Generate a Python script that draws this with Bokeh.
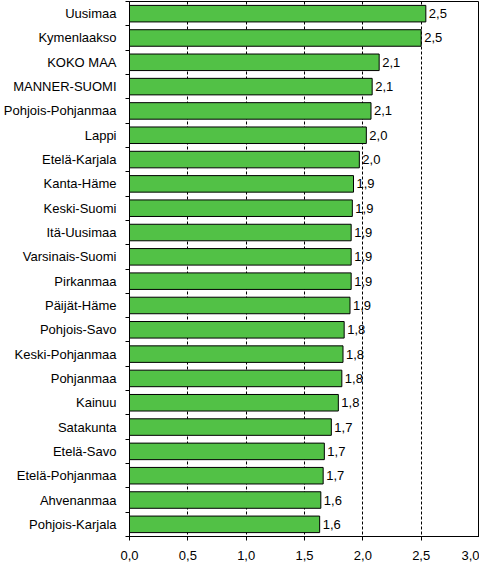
# Keskimääräinen arvo maakunnittain, vaakapylväskaavio Bokehilla

from bokeh.core.properties import value
from bokeh.embed import file_html
from bokeh.models import ColumnDataSource, CustomJSTickFormatter, FixedTicker, Range1d
from bokeh.plotting import figure
from bokeh.resources import INLINE

# Alueet ylhäältä alas ja niiden arvot
alueet = [
    "Uusimaa", "Kymenlaakso", "KOKO MAA", "MANNER-SUOMI", "Pohjois-Pohjanmaa",
    "Lappi", "Etelä-Karjala", "Kanta-Häme", "Keski-Suomi", "Itä-Uusimaa",
    "Varsinais-Suomi", "Pirkanmaa", "Päijät-Häme", "Pohjois-Savo",
    "Keski-Pohjanmaa", "Pohjanmaa", "Kainuu", "Satakunta", "Etelä-Savo",
    "Etelä-Pohjanmaa", "Ahvenanmaa", "Pohjois-Karjala",
]
arvot = [
    2.54, 2.50, 2.14, 2.08, 2.07,
    2.03, 1.97, 1.92, 1.91, 1.90,
    1.90, 1.90, 1.89, 1.84,
    1.83, 1.82, 1.79, 1.73, 1.67,
    1.66, 1.64, 1.63,
]
x_tikit = [0.0, 0.5, 1.0, 1.5, 2.0, 2.5, 3.0]

FONTTI = "Liberation Sans"
KOKO = "13px"
VIHREA = "#52C146"

n = len(alueet)
source = ColumnDataSource(data=dict(
    y=list(range(n)),
    arvo=arvot,
    nimi=alueet,
    teksti=[f"{v:.1f}".replace(".", ",") for v in arvot],
))

p = figure(
    width=479, height=562,
    x_range=Range1d(0, 3), y_range=Range1d(n - 0.5, -0.5),
    output_backend="svg", toolbar_location=None,
    min_border_left=121, min_border_right=0,
    min_border_top=1, min_border_bottom=24,
)
p.outline_line_color = "black"
p.outline_line_width = 1

p.hbar(y="y", right="arvo", left=0, height=0.68, source=source,
       fill_color=VIHREA, line_color="black", line_width=1)
p.text(x="arvo", y="y", text="teksti", source=source, x_offset=3,
       text_baseline="middle", text_align="left",
       text_font=value(FONTTI), text_font_size=KOKO, text_color="black")

# x-akseli
p.xaxis.ticker = FixedTicker(ticks=x_tikit)
p.xaxis.formatter = CustomJSTickFormatter(code="return tick.toFixed(1).replace('.', ',');")
p.xaxis.major_tick_out = 4
p.xaxis.major_tick_in = 0
p.xaxis.minor_tick_line_color = None
p.xaxis.major_label_standoff = 10
p.xaxis.major_label_text_font = FONTTI
p.xaxis.major_label_text_font_size = KOKO
p.xaxis.major_label_text_color = "black"
p.xaxis.axis_line_color = "black"

# y-akseli: nimet keskellä, tikit rajoilla
rajat = [i - 0.5 for i in range(n + 1)]
p.yaxis.ticker = FixedTicker(ticks=list(range(n)), minor_ticks=rajat)
p.yaxis.formatter = CustomJSTickFormatter(args=dict(nimet=alueet), code="return nimet[tick];")
p.yaxis.major_tick_out = 0
p.yaxis.major_tick_in = 0
p.yaxis.minor_tick_out = 4
p.yaxis.minor_tick_in = 0
p.yaxis.minor_tick_line_color = "black"
p.yaxis.major_label_standoff = 9
p.yaxis.major_label_text_font = FONTTI
p.yaxis.major_label_text_font_size = KOKO
p.yaxis.major_label_text_color = "black"
p.yaxis.axis_line_color = "black"

p.xgrid.ticker = FixedTicker(ticks=x_tikit[1:-1])
p.xgrid.grid_line_color = "black"
p.xgrid.grid_line_dash = "3 2"
p.ygrid.grid_line_color = None

p.background_fill_color = "white"
p.border_fill_color = "white"

open("out.html", "w").write(file_html(p, INLINE))
